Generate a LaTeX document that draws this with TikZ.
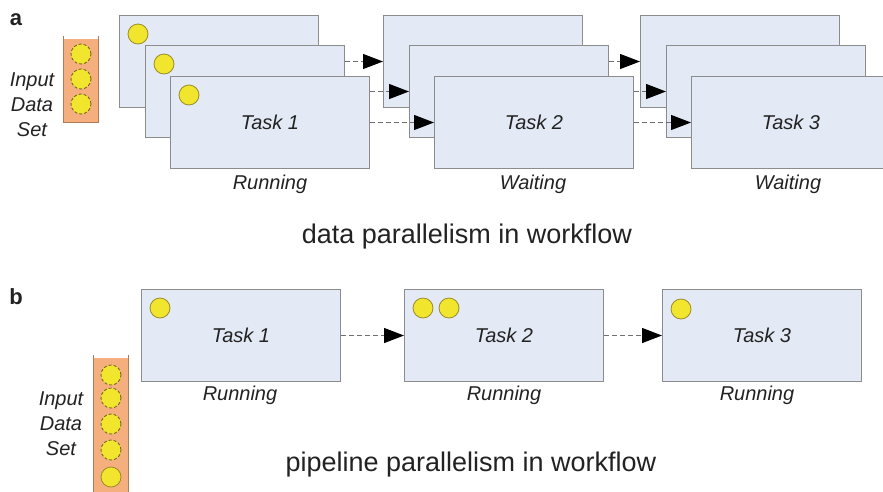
\documentclass[tikz,border=0pt]{standalone}
\usepackage{fontspec}
\setmainfont{Liberation Sans}
\usetikzlibrary{arrows.meta}
\definecolor{taskfill}{HTML}{E4EAF5}
\definecolor{taskline}{HTML}{8C8C8C}
\definecolor{tokenfill}{HTML}{F2E52E}
\definecolor{tokenline}{HTML}{9A8C2A}
\definecolor{barfill}{HTML}{F5AE7E}
\definecolor{barline}{HTML}{B07A58}
\definecolor{edgegray}{HTML}{707070}
\definecolor{ink}{HTML}{222222}

\begin{document}
\begin{tikzpicture}[x=1pt,y=-1pt]

\tikzset{task/.style = {draw=taskline, fill=taskfill, line width=1pt, minimum width=199pt, minimum height=92pt, inner sep=0pt, anchor=north west, text=ink, font=\fontsize{20}{24}\selectfont\itshape}}
\tikzset{token/.style = {circle, draw=tokenline, fill=tokenfill, line width=0.8pt, minimum size=20pt, inner sep=0pt}}
\tikzset{queued/.style = {token, draw=tokenline!70!black, dash pattern=on 3pt off 2pt}}
\tikzset{edge/.style = {draw=edgegray, dash pattern=on 5pt off 3pt, line width=1.2pt, -{Triangle[length=20pt,width=15pt,color=black]}}}
\tikzset{state/.style = {text=ink, font=\fontsize{20}{25}\selectfont\itshape}}
\tikzset{caption/.style = {text=ink, font=\fontsize{27}{32}\selectfont}}
\tikzset{panel/.style = {text=ink, font=\fontsize{22}{26}\selectfont\bfseries}}
%\draw[help lines] (0,0) grid (883,491);
\useasboundingbox (0,0) rectangle (883,491);

% (a) data parallelism
\node[panel] (pa) at (16,20) {a};
\fill[barfill] (63,39) rectangle (98,122);
\draw[barline, line width=1pt] (63,36) -- (63,122) -- (98,122) -- (98,36);
\node[queued] (ina1) at (81,54) {};
\node[queued] (ina2) at (81,79) {};
\node[queued] (ina3) at (81,104) {};
\node[state, align=center] (ina) at (32,105) {Input\\Data\\Set};

\node[task] (t1back) at (119,15) {};
\node[token] (d1back) at (138,34) {};
\node[task] (t1mid) at (145,45) {};
\node[token] (d1mid) at (164,64) {};
\node[task] (t1front) at (170,76) {Task 1};
\node[token] (d1front) at (189,95) {};

\node[task] (t2back) at (383,15) {};
\node[task] (t2mid) at (409,45) {};
\node[task] (t2front) at (434,76) {Task 2};

\node[task] (t3back) at (640,15) {};
\node[task] (t3mid) at (666,45) {};
\node[task] (t3front) at (691,76) {Task 3};

\draw[edge] (t1mid.east |- t2back.west) -- (t2back.west);
\draw[edge] (t1front.east |- t2mid.west) -- (t2mid.west);
\draw[edge] (t1front.east) -- (t2front.west);
\draw[edge] (t2mid.east |- t3back.west) -- (t3back.west);
\draw[edge] (t2front.east |- t3mid.west) -- (t3mid.west);
\draw[edge] (t2front.east) -- (t3front.west);

\node[state] (s1) at (270,184) {Running};
\node[state] (s2) at (533,184) {Waiting};
\node[state] (s3) at (788,184) {Waiting};
\node[caption] (capa) at (467,237) {data parallelism in workflow};

% (b) pipeline parallelism
\node[panel] (pb) at (16,297) {b};
\fill[barfill] (93,358) rectangle (128,495);
\draw[barline, line width=1pt] (93,355) -- (93,495);
\draw[barline, line width=1pt] (128,355) -- (128,495);
\node[queued] (inb1) at (111,375) {};
\node[queued] (inb2) at (111,398) {};
\node[queued] (inb3) at (111,424) {};
\node[queued] (inb4) at (111,450) {};
\node[token] (inb5) at (111,477) {};
\node[state, align=center] (inb) at (61,424) {Input\\Data\\Set};

\node[task] (p1) at (141,289) {Task 1};
\node[token] (e1) at (160,308) {};
\node[task] (p2) at (404,289) {Task 2};
\node[token] (e2a) at (423,308) {};
\node[token] (e2b) at (449,308) {};
\node[task] (p3) at (662,289) {Task 3};
\node[token] (e3) at (681,309) {};

\draw[edge] (p1) -- (p2);
\draw[edge] (p2) -- (p3);

\node[state] (r1) at (240,395) {Running};
\node[state] (r2) at (504,395) {Running};
\node[state] (r3) at (757,395) {Running};
\node[caption] (capb) at (471,465) {pipeline parallelism in workflow};
\end{tikzpicture}
\end{document}
